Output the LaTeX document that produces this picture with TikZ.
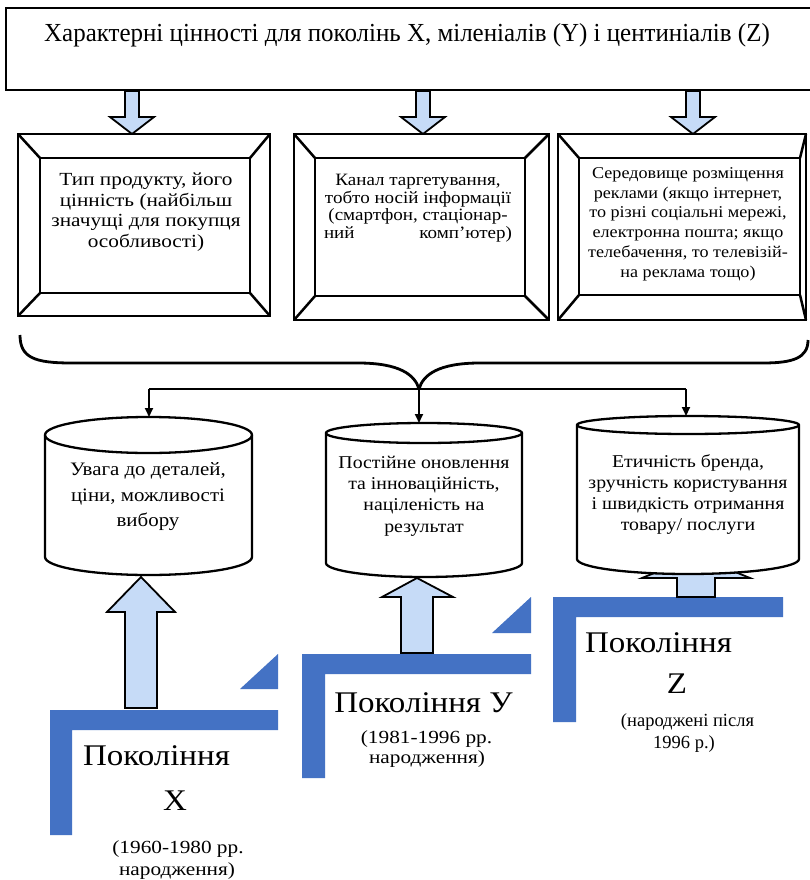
\documentclass[tikz,border=0pt]{standalone}
\usepackage{fontspec}
\setmainfont{Liberation Serif}
\newfontfamily\wideface[FakeStretch=1.15]{Liberation Serif}
\newfontfamily\midface[FakeStretch=1.1]{Liberation Serif}
\newfontfamily\narface[FakeStretch=0.96]{Liberation Serif}
\usetikzlibrary{arrows.meta}
\definecolor{genblue}{RGB}{68,114,196}
\definecolor{arrfill}{RGB}{198,219,247}
\tikzset{
 bev/.style={draw=black,line width=2.5pt,fill=white,line join=miter},
 barrow/.style={draw=black,line width=1.8pt,fill=arrfill,line join=miter},
 cylbody/.style={draw=black,line width=2.3pt,fill=white},
 conn/.style={draw=black,line width=1.8pt},
 connarr/.style={conn,-{Triangle[length=9pt,width=8pt]}},
 bracestyle/.style={draw=black,line width=2.8pt},
 genbar/.style={fill=genblue,draw=none},
 txt/.style={align=center,inner sep=0pt},
}
\newcommand\bevelbox[8]{%
 \filldraw[bev] (#1,#2) rectangle (#3,#4);
 \draw[bev] (#5,#6) rectangle (#7,#8);
 \draw[bev] (#1,#2) -- (#5,#6) (#3,#2) -- (#7,#6) (#1,#4) -- (#5,#8) (#3,#4) -- (#7,#8);
}
\newcommand\downblk[1]{%
 \filldraw[barrow] (#1-7,91) -- (#1+7,91) -- (#1+7,117) -- (#1+22,117) -- (#1,134) -- (#1-22,117) -- (#1-7,117) -- cycle;
}
\newcommand\cylshape[6]{%
 \filldraw[cylbody] (#1-#2,#3) -- (#1-#2,#5) arc[start angle=180,end angle=360,x radius=#2pt,y radius=#6pt] -- (#1+#2,#3) arc[start angle=0,end angle=180,x radius=#2pt,y radius=#4pt] -- cycle;
 \draw[cylbody,fill=none] (#1-#2,#3) arc[start angle=180,end angle=360,x radius=#2pt,y radius=#4pt];
}
\begin{document}
\begin{tikzpicture}[x=1pt,y=-1pt]
\useasboundingbox (0,0) rectangle (809,880);
\fill[white] (0,0) rectangle (809,880);
% title box
\draw[black,line width=1.5pt,fill=white] (6,8) rectangle (812,90);
\node[txt,anchor=base,font={\narface\fontsize{26}{30}\selectfont}] (title) at (407,42)
 {Характерні цінності для поколінь X, міленіалів (Y) і центиніалів (Z)};
% down block arrows
\downblk{132}
\downblk{423}
\downblk{693}
% bevel boxes
\bevelbox{18}{134}{270}{316}{40}{158}{250}{293}
\bevelbox{294}{134}{549}{320}{315}{158}{525}{296}
\bevelbox{558}{134}{806}{320}{579}{158}{800}{295}
\node[txt,font={\wideface\fontsize{18.5}{20.5}\selectfont}] (b1t) at (146,212)
 {Тип продукту, його\\цінність (найбільш\\значущі для покупця\\особливості)};
\node[txt,font={\midface\fontsize{17.3}{17.5}\selectfont}] (b2t) at (418,208)
 {Канал таргетування,\\тобто носій інформації\\(смартфон, стаціонар-\\\hbox to 188pt{ний\hfill комп’ютер)}};
\node[txt,font={\midface\fontsize{16.5}{19.8}\selectfont}] (b3t) at (688,224)
 {Середовище розміщення\\реклами (якщо інтернет,\\то різні соціальні мережі,\\електронна пошта; якщо\\телебачення, то телевізій-\\на реклама тощо)};
% brace
\draw[bracestyle] (20,335) .. controls (20,358) and (35,363) .. (72,363) -- (358,363) .. controls (400,363) and (415,375) .. (419,389);
\draw[bracestyle] (808,340) .. controls (808,358) and (793,363) .. (763,363) -- (480,363) .. controls (438,363) and (423,375) .. (419,389);
\coordinate (brtip) at (419,389);
\coordinate (bl) at (149,389);
\coordinate (br) at (686,389);
\coordinate (c1top) at (149,417);
\coordinate (c2top) at (419,423);
\coordinate (c3top) at (686,416);
\draw[conn] (bl) -- (br);
\draw[connarr] (bl) -- (c1top);
\draw[connarr] (brtip) -- (c2top);
\draw[connarr] (br) -- (c3top);
% generation L shapes
\fill[genbar] (50,710) -- (278,710) -- (278,730) -- (72,730) -- (72,835) -- (50,835) -- cycle;
\fill[genbar] (240,689) -- (278,654) -- (278,689) -- cycle;
\fill[genbar] (302,654) -- (531,654) -- (531,674) -- (325,674) -- (325,778) -- (302,778) -- cycle;
\fill[genbar] (492,633) -- (531,597) -- (531,633) -- cycle;
\fill[genbar] (553,597) -- (783,597) -- (783,617) -- (576,617) -- (576,722) -- (553,722) -- cycle;
% up block arrows
\filldraw[barrow] (125,708) -- (125,612) -- (107,612) -- (141,577) -- (175,612) -- (157,612) -- (157,708) -- cycle;
\filldraw[barrow] (401,653) -- (401,597) -- (382,597) -- (417,578) -- (453,597) -- (433,597) -- (433,653) -- cycle;
\filldraw[barrow] (677,597) -- (677,578) -- (642,578) -- (696,556) -- (750,578) -- (715,578) -- (715,597) -- cycle;
% cylinders
\cylshape{148.5}{103.5}{435}{18}{557}{18}
\cylshape{424}{98}{433}{10}{563}{14}
\cylshape{688}{111}{425}{9}{559}{15}
\node[txt,font={\midface\fontsize{19}{25.5}\selectfont}] (c1t) at (148,497)
 {Увага до деталей,\\ціни, можливості\\вибору};
\node[txt,font={\midface\fontsize{18}{21.3}\selectfont}] (c2t) at (424,496)
 {Постійне оновлення\\та інноваційність,\\націленість на\\результат};
\node[txt,font={\midface\fontsize{18}{21}\selectfont}] (c3t) at (688,494)
 {Етичність бренда,\\зручність користування\\і швидкість отримання\\товару/ послуги};
% generation labels
\node[txt,anchor=base,font={\midface\fontsize{30}{32}\selectfont}] (gx) at (156.5,765) {Покоління};
\node[txt,anchor=base,font={\midface\fontsize{30}{32}\selectfont}] (gxl) at (175,810) {X};
\node[txt,anchor=base,font={\wideface\fontsize{18.5}{22}\selectfont}] (gxd1) at (178,853) {(1960-1980 рр.};
\node[txt,anchor=base,font={\wideface\fontsize{18.5}{22}\selectfont}] (gxd2) at (177,875) {народження)};
\node[txt,anchor=base,font={\midface\fontsize{30}{32}\selectfont}] (gy) at (423.5,712) {Покоління У};
\node[txt,anchor=base,font={\wideface\fontsize{18.5}{22}\selectfont}] (gyd1) at (426.5,743) {(1981-1996 рр.};
\node[txt,anchor=base,font={\wideface\fontsize{18.5}{22}\selectfont}] (gyd2) at (427,763) {народження)};
\node[txt,anchor=base,font={\midface\fontsize{30}{32}\selectfont}] (gz) at (658.5,652) {Покоління};
\node[txt,anchor=base,font={\midface\fontsize{30}{32}\selectfont}] (gzl) at (677,693) {Z};
\node[txt,anchor=base,font={\fontsize{18.5}{22}\selectfont}] (gzd1) at (687.5,726) {(народжені після};
\node[txt,anchor=base,font={\fontsize{18.5}{22}\selectfont}] (gzd2) at (684,748) {1996 р.)};
\end{tikzpicture}
\end{document}
